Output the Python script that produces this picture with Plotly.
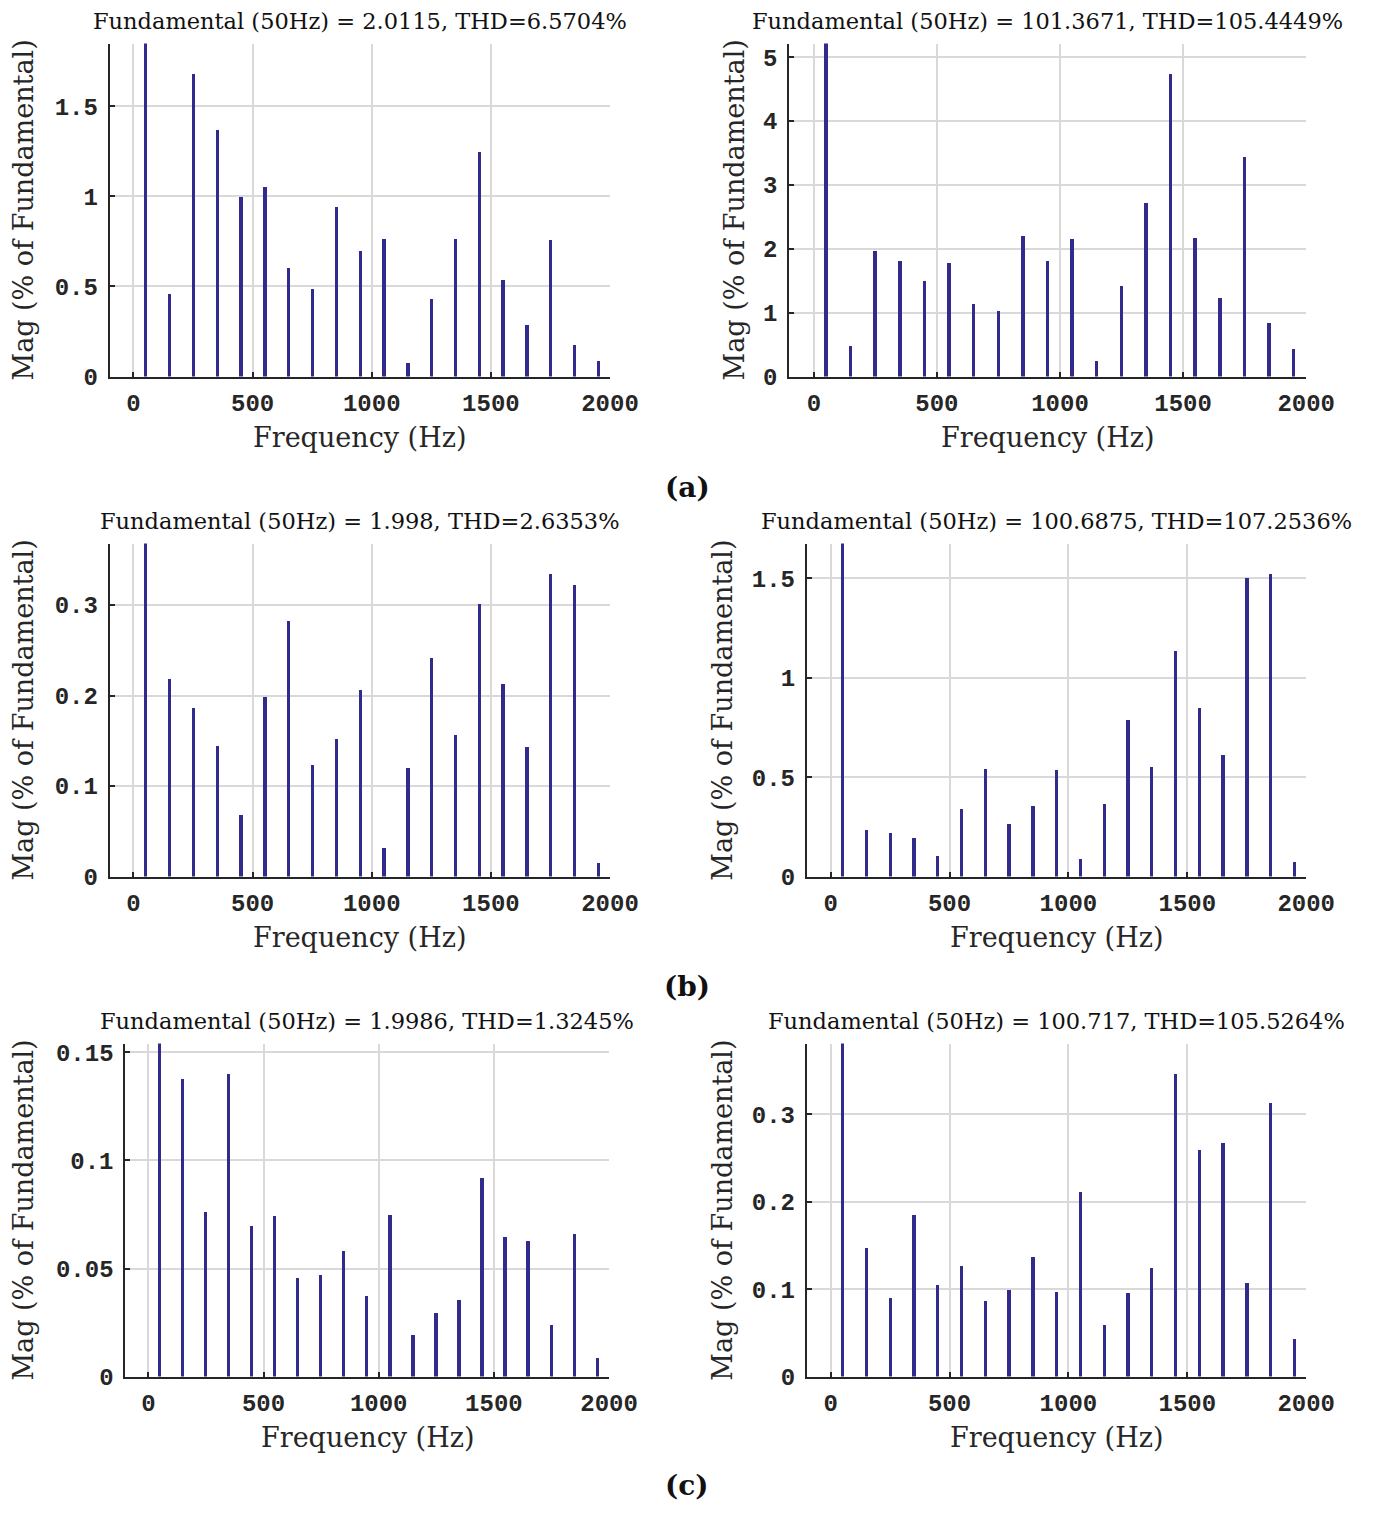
import plotly.graph_objects as go

# ---------------- data ----------------
freqs = [50, 150, 250, 350, 450, 550, 650, 750, 850, 950,
         1050, 1150, 1250, 1350, 1450, 1550, 1650, 1750, 1850, 1950]

mag_a_left = [100, 0.46, 1.68, 1.37, 1.00, 1.057, 0.603, 0.49, 0.941, 0.702,
              0.766, 0.080, 0.433, 0.768, 1.250, 0.537, 0.291, 0.760, 0.175, 0.090]
mag_a_right = [100, 0.49, 1.98, 1.82, 1.50, 1.79, 1.15, 1.04, 2.21, 1.81,
               2.16, 0.25, 1.42, 2.72, 4.74, 2.17, 1.24, 3.44, 0.85, 0.44]
mag_b_left = [100, 0.219, 0.187, 0.145, 0.069, 0.199, 0.283, 0.124, 0.153, 0.207,
              0.032, 0.121, 0.242, 0.157, 0.302, 0.213, 0.144, 0.3345, 0.3226, 0.0156]
mag_b_right = [100, 0.235, 0.223, 0.195, 0.106, 0.341, 0.541, 0.265, 0.359, 0.536,
               0.091, 0.369, 0.792, 0.551, 1.136, 0.852, 0.612, 1.502, 1.523, 0.076]
mag_c_left = [100, 0.1381, 0.0765, 0.1401, 0.0698, 0.0747, 0.0456, 0.0470, 0.0584, 0.0377,
              0.0752, 0.0195, 0.0294, 0.0355, 0.0921, 0.0649, 0.0630, 0.0241, 0.0662, 0.0088]
mag_c_right = [100, 0.1472, 0.0900, 0.1856, 0.1050, 0.1268, 0.0869, 0.0997, 0.1370, 0.0967,
               0.2111, 0.0598, 0.0963, 0.1250, 0.3463, 0.2593, 0.2672, 0.1076, 0.3135, 0.0437]

titles = [
    "Fundamental (50Hz) = 2.0115, THD=6.5704%",
    "Fundamental (50Hz) = 101.3671, THD=105.4449%",
    "Fundamental (50Hz) = 1.998, THD=2.6353%",
    "Fundamental (50Hz) = 100.6875, THD=107.2536%",
    "Fundamental (50Hz) = 1.9986, THD=1.3245%",
    "Fundamental (50Hz) = 100.717, THD=105.5264%",
]
y_dticks = [0.5, 1, 0.1, 0.5, 0.05, 0.1]
x_ticks = [0, 500, 1000, 1500, 2000]
panel_labels = ["(a)", "(b)", "(c)"]
x_title = "Frequency (Hz)"
y_title = "Mag (% of Fundamental)"

series = [mag_a_left, mag_a_right, mag_b_left, mag_b_right, mag_c_left, mag_c_right]

# ---------------- layout geometry (pixels) ----------------
W, H = 1392, 1521
px_x = [(112, 623), (806, 1334), (112, 623), (824, 1334), (128, 622), (824, 1334)]
px_y = [(41, 378), (547, 884), (1053, 1390)]
ylab_x = [24, 750, 24, 737, 24, 737]
panel_label_y = [490, 995, 1500]

BAR = "#312C8C"
AX = "#262626"
GRID = "#D9D9D9"
SERIF = "DejaVu Serif"
MONO = "Liberation Mono"

fig = go.Figure()
annotations = []
layout = {}

for i, vals in enumerate(series):
    row = i // 2
    n = "" if i == 0 else str(i + 1)
    xa, ya = "x" + n, "y" + n
    fig.add_trace(go.Bar(x=freqs, y=vals, width=14, marker=dict(color=BAR, line=dict(width=0)),
                         xaxis=xa, yaxis=ya, showlegend=False, hoverinfo="skip"))
    l, r = px_x[i]
    t, b = px_y[row]
    ymax = 1.1 * max(vals[1:])
    common = dict(
        showgrid=True, gridcolor=GRID, gridwidth=1.5,
        zeroline=False, showline=True, linecolor=AX, linewidth=2,
        ticks="inside", ticklen=5, tickcolor=AX, tickwidth=1.5,
        tickfont=dict(family=MONO, size=24, color=AX, weight="bold"),
        fixedrange=True,
    )
    layout["xaxis" + n] = dict(
        domain=[l / W, r / W], anchor=ya, range=[-100, 2000],
        tickvals=x_ticks, ticklabelstandoff=4, **common,
    )
    layout["yaxis" + n] = dict(
        domain=[1 - b / H, 1 - t / H], anchor=xa, range=[0, ymax],
        dtick=y_dticks[i], tick0=0, ticklabelstandoff=5, **common,
    )
    cx = (l + r) / 2
    annotations.append(dict(text=titles[i], x=cx / W, y=1 - (t - 23) / H, xref="paper", yref="paper",
                            showarrow=False, xanchor="center", yanchor="middle",
                            font=dict(family=SERIF, size=22.5, color="#111111")))
    annotations.append(dict(text=x_title, x=cx / W, y=1 - (b + 62) / H, xref="paper", yref="paper",
                            showarrow=False, xanchor="center", yanchor="middle",
                            font=dict(family=SERIF, size=27, color="#262626")))
    annotations.append(dict(text=y_title, x=ylab_x[i] / W, y=1 - ((t + b) / 2) / H, xref="paper", yref="paper",
                            showarrow=False, xanchor="center", yanchor="middle", textangle=-90,
                            font=dict(family=SERIF, size=27, color="#262626")))

for k, lab in enumerate(panel_labels):
    annotations.append(dict(text="<b>" + lab + "</b>", x=702 / W, y=1 - panel_label_y[k] / H,
                            xref="paper", yref="paper", showarrow=False,
                            xanchor="center", yanchor="middle",
                            font=dict(family=SERIF, size=28, color="#111111")))

fig.update_layout(
    width=W, height=H, margin=dict(l=0, r=0, t=0, b=0),
    paper_bgcolor="white", plot_bgcolor="white", hovermode=False,
    bargap=0, annotations=annotations, **layout,
)

fig.write_html("out.html", config={"displayModeBar": False},
               post_script="document.body.style.margin='0';document.body.style.overflow='hidden';")
